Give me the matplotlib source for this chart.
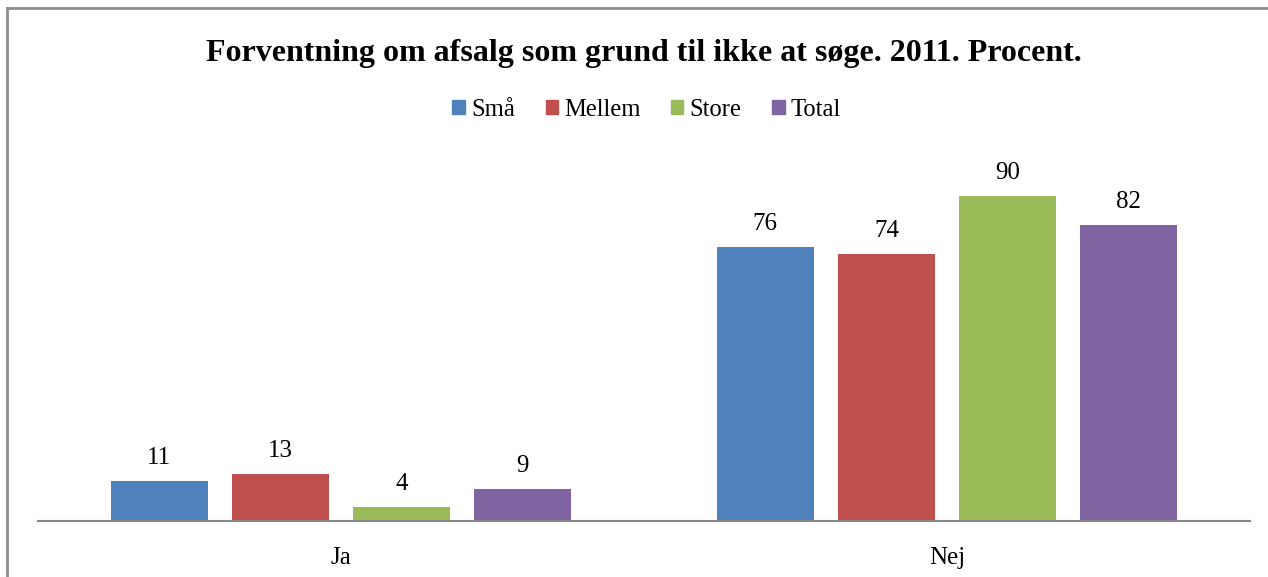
import numpy as np
import matplotlib.pyplot as plt
from matplotlib.lines import Line2D
from matplotlib.patches import Patch

categories = ["Ja", "Nej"]
series = ["Små", "Mellem", "Store", "Total"]
sma = [11, 76]
mellem = [13, 74]
store = [4, 90]
total = [9, 82]
colors = ["#4F81BD", "#C0504D", "#9BBB59", "#8064A2"]

plt.rcParams["font.family"] = ["Liberation Serif", "DejaVu Serif"]

fig = plt.figure(figsize=(12.68, 5.77), dpi=100)
ax = fig.add_axes([38 / 1268, 1 - 521 / 577, (1250 - 38) / 1268, (521 - 160) / 577])

x = np.arange(len(categories))
offsets = [-0.3, -0.1, 0.1, 0.3]
for vals, off, col in zip([sma, mellem, store, total], offsets, colors):
    bars = ax.bar(x + off, vals, width=0.16, color=col)
    for b, v in zip(bars, vals):
        ax.annotate(str(v), (b.get_x() + b.get_width() / 2, v), xytext=(0, 8.5),
                    textcoords="offset points", ha="center", va="bottom", fontsize=18)

ax.set_xlim(-0.5, 1.5)
ax.set_ylim(0, 100)
ax.set_yticks([])
ax.set_xticks(x)
ax.set_xticklabels(categories, fontsize=18)
ax.tick_params(axis="x", length=0, pad=19)
for s in ("top", "right", "left"):
    ax.spines[s].set_visible(False)
ax.spines["bottom"].set_color("#878787")
ax.spines["bottom"].set_linewidth(1.5)

fig.text(0.508, 1 - 53 / 577, "Forventning om afsalg som grund til ikke at søge. 2011. Procent.",
         ha="center", va="center", fontsize=23, fontweight="bold")

handles = [Patch(color=c) for c in colors]
fig.legend(handles, series, loc="center", bbox_to_anchor=(0.51, 1 - 110 / 577), ncol=4,
           frameon=False, fontsize=17.7, handlelength=0.5, handleheight=0.5,
           handletextpad=0.25, columnspacing=1.25)

# outer chart border (left and top only visible)
fig.add_artist(Line2D([7 / 1268, 7 / 1268], [0, 1 - 8 / 577], color="#8c8c8c", lw=2,
                      transform=fig.transFigure))
fig.add_artist(Line2D([7 / 1268, 1], [1 - 8 / 577, 1 - 8 / 577], color="#8c8c8c", lw=2,
                      transform=fig.transFigure))

fig.savefig("out.png", dpi=100)
